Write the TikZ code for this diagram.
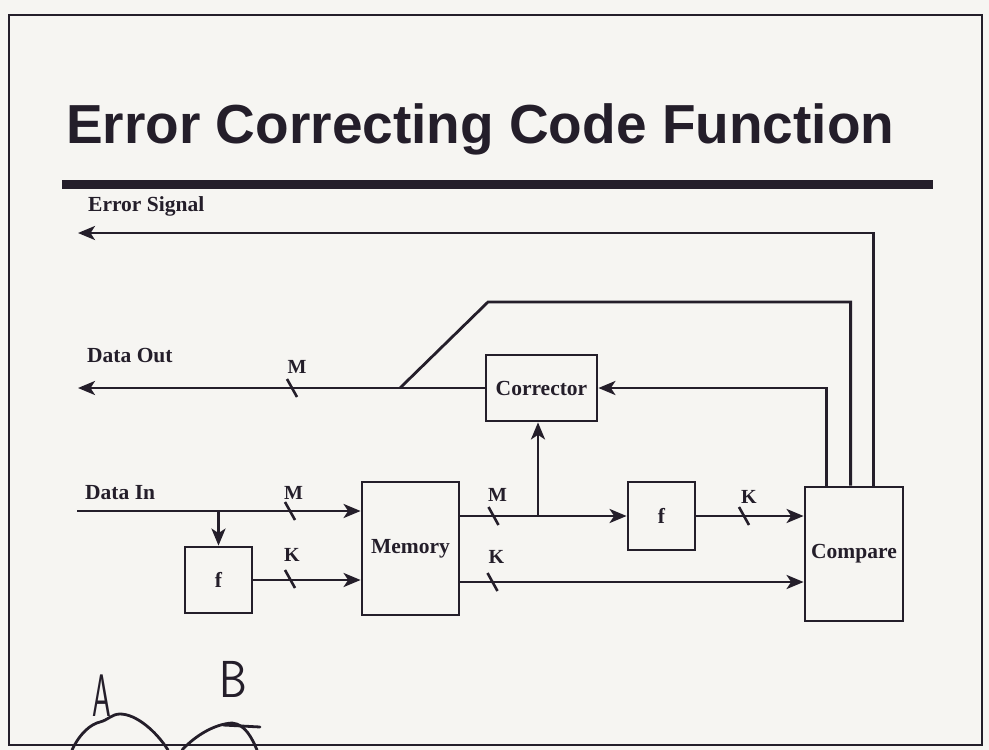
\documentclass[tikz,border=0pt]{standalone}
\usepackage{fontspec}
\setmainfont{Liberation Serif}
\newfontfamily\titlefont{Liberation Sans}
\usetikzlibrary{arrows.meta,calc}
\definecolor{ink}{RGB}{36,30,42}
\definecolor{paper}{RGB}{246,245,242}
\tikzset{
  wire/.style={draw=ink, line width=2.8pt},
  arr/.style={wire, -{Stealth[length=17pt,width=14pt,inset=4.5pt]}},
  blk/.style={draw=ink, line width=2.8pt, inner sep=0pt, text=ink,
    font=\fontsize{21.5}{24}\selectfont\bfseries},
  lbl/.style={text=ink, inner sep=0pt, font=\fontsize{21.5}{24}\selectfont\bfseries},
  bus/.style={text=ink, inner sep=0pt, anchor=base, font=\fontsize{20}{22}\selectfont\bfseries},
  slash/.pic={\draw[ink, line width=2.6pt] (-5,-9) -- (5,9);},
  hand/.style={draw=ink, line width=2.8pt, line cap=round, line join=round},
  handtxt/.style={text=ink, inner sep=0pt, font=\fontsize{60}{60}\selectfont\sffamily}
}
\begin{document}
\begin{tikzpicture}[x=1pt,y=-1pt]
\fill[paper] (0,0) rectangle (989,750);
\useasboundingbox (0,0) rectangle (989,750);

% frame, title and rule
\draw[ink, line width=2pt] (9,15) rectangle (982,745);
\node[anchor=base west, inner sep=0pt, text=ink,
      font=\titlefont\bfseries\fontsize{55}{60}\selectfont] (title) at (66,143)
      {Error Correcting Code Function};
\draw[ink, line width=9pt] (62,184) -- (933,184);

% blocks
\node[blk, minimum width=111pt, minimum height=66pt] (corr) at (541.5,388) {Corrector};
\node[blk, minimum width=97pt,  minimum height=133pt] (mem) at (410.5,548.5) {Memory};
\node[blk, minimum width=67pt,  minimum height=66pt] (f1) at (218.5,580) {f};
\node[blk, minimum width=67pt,  minimum height=68pt] (f2) at (661.5,516) {f};
\node[blk, minimum width=98pt,  minimum height=134pt] (cmp) at (854,554) {Compare};

% side labels
\node[lbl, anchor=base west] (les) at (88,211) {Error Signal};
\node[lbl, anchor=base west] (ldo) at (87,362) {Data Out};
\node[lbl, anchor=base west] (ldi) at (85,499) {Data In};

% free ends and junctions
\coordinate (es) at (78,233);
\coordinate (dout) at (78,388);
\coordinate (dj) at (400,388);
\coordinate (knee) at (488,302);
\coordinate (din) at (77,511);
\coordinate (b1) at (f1.north |- din);
\coordinate (b2) at (538,516);
\coordinate (ylow) at (0,582);

% connectors
\draw[arr] ($(cmp.north west)+(70,0)$) |- (es);
\draw[wire] ($(cmp.north west)+(47,0)$) |- (knee) -- (dj);
\draw[arr] ($(cmp.north west)+(23,0)$) |- (corr.east);
\draw[arr] (corr.west) -- (dout);
\draw[arr] (din) -- (din -| mem.west);
\draw[arr] (b1) -- (f1.north);
\draw[arr] (f1.east) -- (f1.east -| mem.west);
\draw[arr] (mem.east |- f2.west) -- (f2.west);
\draw[arr] (b2) -- (b2 |- corr.south);
\draw[arr] (f2.east) -- (f2.east -| cmp.west);
\draw[arr] (mem.east |- ylow) -- (cmp.west |- ylow);

% bus widths
\pic at (292,388) {slash};
\node[bus] (m1) at (297,373) {M};
\pic at (290,511) {slash};
\node[bus] (m2) at (293.5,499) {M};
\pic at (290,579) {slash};
\node[bus] (k1) at (292,561) {K};
\pic at (493.5,516) {slash};
\node[bus] (m3) at (497.5,501) {M};
\pic at (492.5,582) {slash};
\node[bus] (k2) at (496.5,563) {K};
\pic at (744,516) {slash};
\node[bus] (k3) at (749,503) {K};

% handwritten notes
\node[handtxt, xscale=0.5] (ha) at (102,696) {A};
\node[handtxt, xscale=0.85, font=\fontsize{52}{52}\selectfont\sffamily] (hb) at (233,679) {B};
\draw[hand] (72,750) .. controls (80,733) and (91,724) .. (100,722)
  .. controls (108,720) and (112,714) .. (120,714)
  .. controls (136,714) and (156,731) .. (168,750);
\draw[hand] (182,750) .. controls (196,735) and (215,724) .. (232,723)
  .. controls (245,724) and (252,738) .. (257,750);
\draw[hand] (223,725) -- (260,727);
\end{tikzpicture}
\end{document}
